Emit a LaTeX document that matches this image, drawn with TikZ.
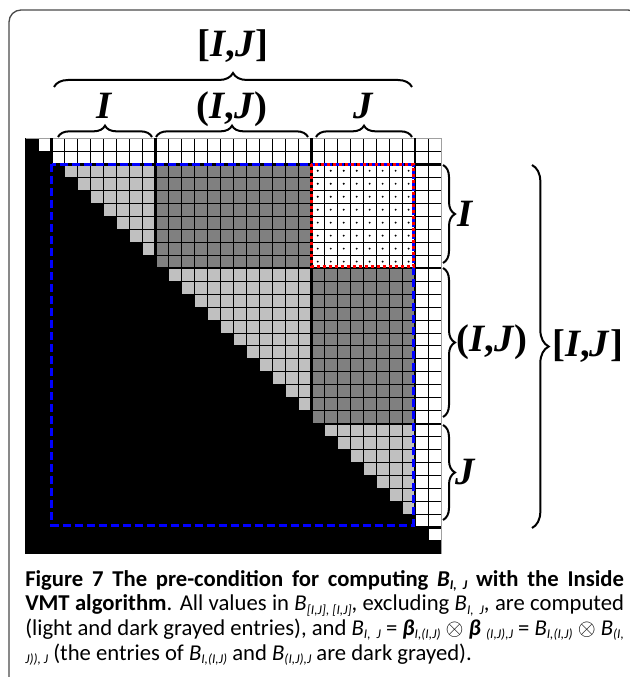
\documentclass[tikz,border=0pt]{standalone}
\usepackage{fontspec}
\setmainfont{Carlito}
\newfontfamily\timesfont{Liberation Serif}
\usepackage{xcolor}
\usepackage{tikz}
\usetikzlibrary{positioning,decorations.pathreplacing}
\definecolor{lightcell}{HTML}{C0C0C0}
\definecolor{darkcell}{HTML}{808080}
\definecolor{boxline}{HTML}{4A4A4A}
\definecolor{rim}{HTML}{A0A0A0}
\definecolor{vmtblue}{HTML}{0000FF}
\definecolor{vmtred}{HTML}{FF0000}
\newcommand\capsub[1]{\raisebox{-2.5pt}{\fontsize{10}{10}\selectfont\itshape #1}}
\newcommand\capline[1]{\makebox[449pt][s]{#1}}

\begin{document}
\begin{tikzpicture}[
  x=0.75pt, y=-0.75pt,
  lbl/.style={font=\timesfont\fontsize{29}{30}\selectfont\bfseries, inner sep=0pt},
  brc/.style={decorate, decoration={brace, amplitude=#1}, line width=1.5pt},
  cellline/.style={line width=0.75pt},
  blockline/.style={line width=1.9pt},
  bluebox/.style={draw=vmtblue, line width=2.25pt, dash pattern=on 6pt off 3pt},
  redbox/.style={draw=vmtred, line width=2.25pt, dash pattern=on 2.25pt off 2.25pt}
]
\useasboundingbox (0,0) rectangle (629,677);
\draw[boxline, line width=1pt, rounded corners=9pt] (9,10) rectangle (640,690);

\begin{scope}[shift={(25.7,138.3)}, x=9.735pt, y=-9.735pt]
\fill[white] (0,0) rectangle (32,32);
\fill[lightcell] (2,2) rectangle (30,30);
\fill[darkcell] (10,2) rectangle (22,10) (22,10) rectangle (30,22);
\fill[white] (22,2) rectangle (30,10);
\foreach \k in {0,...,32} {
  \draw[cellline] (\k,0) -- (\k,32);
  \draw[cellline] (0,\k) -- (32,\k);
}
\foreach \i in {2,...,9}
  \foreach \j in {22,...,29}
    \fill (\j+0.5,\i+0.5) circle (0.8pt);
\fill (0,0) \foreach \k in {1,...,32} { -- (\k,\k-1) -- (\k,\k) } -- (0,32) -- cycle;
\draw[rim] (0,0) -- (32,0) -- (32,32);
\foreach \k in {2,10,22,30} {
  \draw[blockline] (\k,0) -- (\k,32);
  \draw[blockline] (0,\k) -- (32,\k);
}
\draw[bluebox] (2,2) rectangle (29.85,29.8);
\draw[redbox] (22,2) rectangle (29.85,9.9);
\end{scope}

\draw[brc=10.5pt] (54,87) -- (412,87) coordinate[midway] (topIJ);
\draw[brc=8.5pt] (58,137) -- (152,137) coordinate[midway] (topI);
\draw[brc=8.5pt] (156,137) -- (308,137) coordinate[midway] (topM);
\draw[brc=8.5pt] (316,137) -- (412,137) coordinate[midway] (topJ);
\node[lbl, anchor=base] (labtopIJ) at ([yshift=23pt]topIJ) {[\textit{I},\textit{J}]};
\node[lbl, anchor=base] (labtopI) at ([yshift=14pt]topI) {\textit{I}};
\node[lbl, anchor=base] (labtopM) at ([yshift=14pt]topM) {(\textit{I},\textit{J})};
\node[lbl, anchor=base] (labtopJ) at ([yshift=14pt]topJ) {\textit{J}};

\draw[brc=9pt] (443,165) -- (443,263) coordinate[midway] (sideI);
\draw[brc=9pt] (443,268) -- (443,417) coordinate[midway] (sideM);
\draw[brc=9pt] (443,425) -- (443,520) coordinate[midway] (sideJ);
\draw[brc=12.5pt] (532,165) -- (532,528) coordinate[midway] (sideIJ);
\node[lbl, right=11pt of sideI] (labsideI) {\textit{I}};
\node[lbl, right=10pt of sideM] (labsideM) {(\textit{I},\textit{J})};
\node[lbl, right=9pt of sideJ] (labsideJ) {\textit{J}};
\node[lbl, right=15pt of sideIJ] (labsideIJ) {[\textit{I},\textit{J}]};

\node[anchor=north west, inner sep=0pt, align=left,
  font=\fontsize{17}{18.5}\selectfont] (caption) at (25,570)
  {\capline{\bfseries Figure 7 The pre-condition for computing \textit{B}\capsub{I,~~J} with the Inside}\\
   \capline{\textbf{VMT algorithm}. All values in \textit{B}\capsub{[I,J], [I,J]}, excluding \textit{B}\capsub{I,~~J}, are computed}\\
   \capline{(light and dark grayed entries), and \textit{B}\capsub{I,~~J} = \textbf{\textit{β}}\capsub{I,(I,J)} $\otimes$ \textbf{\textit{β}}\ \capsub{(I,J),J} = \textit{B}\capsub{I,(I,J)} $\otimes$ \textit{B}\capsub{(I,}}\\
   \capsub{J)), J} (the entries of \textit{B}\capsub{I,(I,J)} and \textit{B}\capsub{(I,J),J} are dark grayed).};
\end{tikzpicture}
\end{document}
